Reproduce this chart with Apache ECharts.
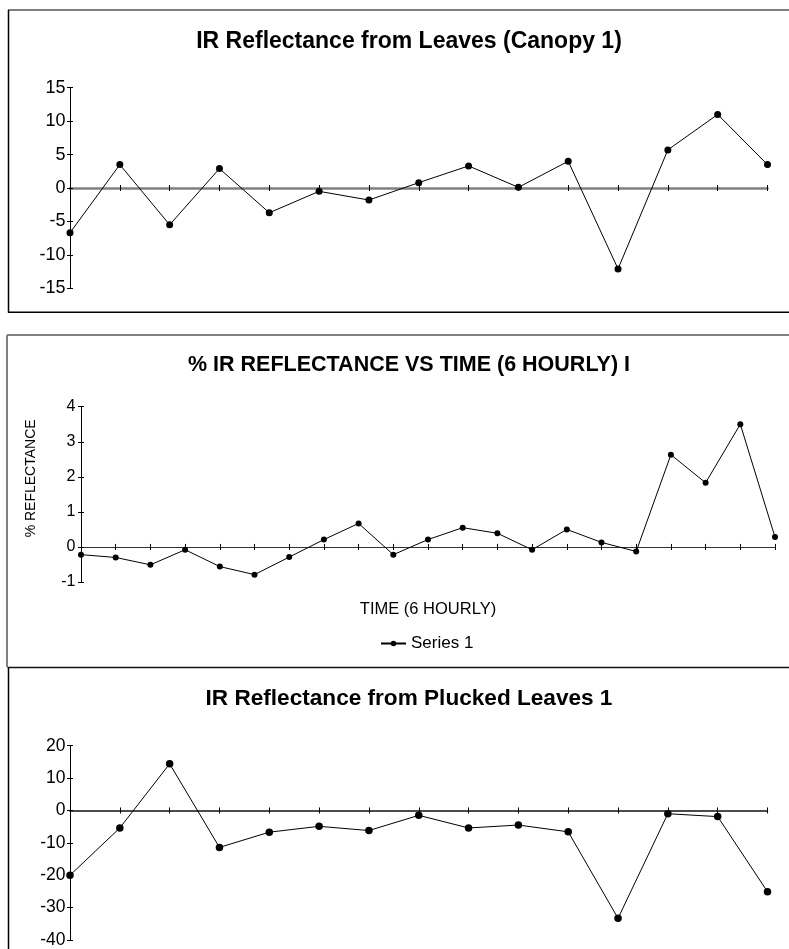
<!DOCTYPE html>
<html>
<head>
<meta charset="utf-8">
<script src="https://cdn.jsdelivr.net/npm/echarts@6/dist/echarts.min.js"></script>
<style>
html,body{margin:0;padding:0;background:#fff;}
#c{width:789px;height:949px;}
</style>
</head>
<body>
<div id="c"></div>
<script>
// ---- data ----
const titles = [
  'IR Reflectance from Leaves (Canopy 1)',
  '% IR REFLECTANCE VS TIME (6 HOURLY) I',
  'IR Reflectance from Plucked Leaves 1'
];
const categories15 = ['1','2','3','4','5','6','7','8','9','10','11','12','13','14','15'];
const categories21 = ['1','2','3','4','5','6','7','8','9','10','11','12','13','14','15','16','17','18','19','20','21'];
const canopyValues = [-6.7, 3.5, -5.5, 2.9, -3.7, -0.5, -1.8, 0.8, 3.3, 0.1, 4.0, -12.1, 5.7, 11.0, 3.5];
const timeValues = [-0.22, -0.3, -0.51, -0.08, -0.56, -0.79, -0.29, 0.21, 0.67, -0.22, 0.21, 0.55, 0.39, -0.08, 0.5, 0.13, -0.13, 2.63, 1.83, 3.5, 0.28];
const pluckedValues = [-20, -5.4, 14.4, -11.4, -6.7, -4.9, -6.2, -1.5, -5.4, -4.5, -6.6, -33.3, -1.0, -1.9, -25.1];
const yTicks1 = {min: -15, max: 15, interval: 5};
const yTicks2 = {min: -1, max: 4, interval: 1};
const yTicks3 = {min: -40, max: 20, interval: 10};
const seriesName = 'Series 1';
const xAxisName2 = 'TIME (6 HOURLY)';
const yAxisName2 = '% REFLECTANCE';

const FONT = '"Liberation Sans", Arial, sans-serif';
const chart = echarts.init(document.getElementById('c'), null, {renderer: 'canvas'});

const grids = [
  {left: 70, top: 87.7, width: 697.5, height: 200.6},
  {left: 81, top: 406.7, width: 694, height: 175.3},
  {left: 70, top: 745.7, width: 697.5, height: 200}
];
const xCats = [categories15, categories21, categories15];
const yCfg = [yTicks1, yTicks2, yTicks3];
const xLine = [
  {color: '#808080', width: 2.5},
  {color: '#333333', width: 1},
  {color: '#111111', width: 1.5}
];
const labelSize = [18, 16, 17.5];
const labelMargin = [4.5, 5.5, 4.5];

const xAxes = [], yAxes = [];
for (let g = 0; g < 3; g++) {
  // main x (ticks outward)
  xAxes.push({
    type: 'category', gridIndex: g, data: xCats[g], boundaryGap: false, position: 'bottom',
    axisLine: {onZero: true, lineStyle: {color: xLine[g].color, width: xLine[g].width}},
    axisTick: {show: true, interval: 0, length: 3, lineStyle: {color: '#000', width: 1}},
    axisLabel: {show: false}, splitLine: {show: false},
    name: g === 1 ? xAxisName2 : '', nameLocation: 'middle', nameGap: 19,
    nameTextStyle: {fontFamily: FONT, fontSize: 16.5, color: '#000'}
  });
  // duplicate x (ticks inward)
  xAxes.push({
    type: 'category', gridIndex: g, data: xCats[g], boundaryGap: false, position: 'bottom',
    axisLine: {show: false, onZero: true},
    axisTick: {show: true, inside: true, interval: 0, length: 3, lineStyle: {color: '#000', width: 1}},
    axisLabel: {show: false}, splitLine: {show: false}
  });
  yAxes.push({
    type: 'value', gridIndex: g, position: 'left', min: yCfg[g].min, max: yCfg[g].max, interval: yCfg[g].interval,
    axisLine: {show: true, lineStyle: {color: '#000', width: 1}},
    axisTick: {show: true, length: 3, lineStyle: {color: '#000', width: 1}},
    axisLabel: {margin: labelMargin[g], fontFamily: FONT, fontSize: labelSize[g], color: '#000'},
    splitLine: {show: false},
    name: g === 1 ? yAxisName2 : '', nameLocation: 'middle', nameGap: 43,
    nameTextStyle: {fontFamily: FONT, fontSize: 14, color: '#000', padding: [0, 0, 0, 32]}
  });
  yAxes.push({
    type: 'value', gridIndex: g, position: 'left', min: yCfg[g].min, max: yCfg[g].max, interval: yCfg[g].interval,
    axisLine: {show: false},
    axisTick: {show: true, inside: true, length: 3, lineStyle: {color: '#000', width: 1}},
    axisLabel: {show: false}, splitLine: {show: false}
  });
}

const lineSeries = (name, data, g, size) => ({
  name: name, type: 'line', data: data,
  xAxisIndex: g * 2, yAxisIndex: g * 2,
  symbol: 'circle', symbolSize: size, showSymbol: true,
  lineStyle: {color: '#000', width: 1},
  itemStyle: {color: '#000'},
  animation: false, z: 5
});

const borderLines = [
  {x1: 8, y1: 10, x2: 789, y2: 10, c: '#808080', w: 2},
  {x1: 8.5, y1: 10, x2: 8.5, y2: 312.5, c: '#000', w: 1.5},
  {x1: 8, y1: 312.3, x2: 789, y2: 312.3, c: '#000', w: 1.5},
  {x1: 7, y1: 335, x2: 789, y2: 335, c: '#808080', w: 2},
  {x1: 7, y1: 335, x2: 7, y2: 667, c: '#808080', w: 2},
  {x1: 7.5, y1: 667.6, x2: 789, y2: 667.6, c: '#111', w: 1.5},
  {x1: 8.5, y1: 667.6, x2: 8.5, y2: 949, c: '#000', w: 1.5}
];

const titleCenters = [36.5, 359.7, 693.7];
const titleSizes = [23, 21.5, 22.6];

chart.setOption({
  animation: false,
  backgroundColor: '#fff',
  title: titles.map((t, i) => ({
    text: t, left: 404, top: titleCenters[i] - titleSizes[i] / 2, textAlign: 'center',
    textStyle: {fontFamily: FONT, fontSize: titleSizes[i], fontWeight: 'bold', color: '#000', lineHeight: titleSizes[i]}
  })),
  legend: {
    data: [seriesName], left: 380, top: 635, padding: 0,
    itemWidth: 25, itemHeight: 7, itemGap: 6,
    textStyle: {fontFamily: FONT, fontSize: 17, color: '#000'}
  },
  grid: grids,
  xAxis: xAxes,
  yAxis: yAxes,
  series: [
    lineSeries('Canopy', canopyValues, 0, 7),
    lineSeries(seriesName, timeValues, 1, 6),
    lineSeries('Plucked', pluckedValues, 2, 7.5)
  ],
  graphic: borderLines.map(b => ({
    type: 'line', shape: {x1: b.x1, y1: b.y1, x2: b.x2, y2: b.y2},
    style: {stroke: b.c, lineWidth: b.w}, silent: true, z: 100
  }))
});
</script>
</body>
</html>
